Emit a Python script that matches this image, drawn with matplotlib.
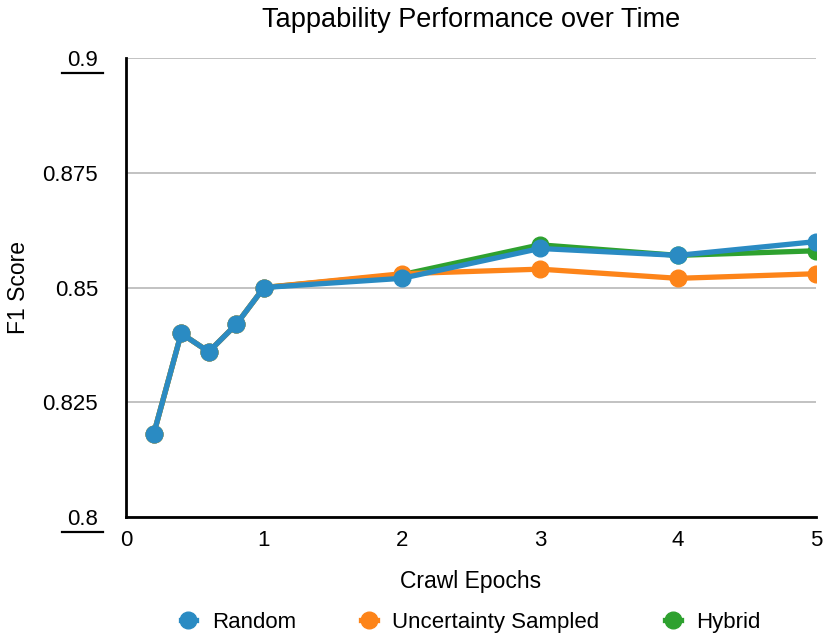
import matplotlib
matplotlib.use("Agg")
import matplotlib.pyplot as plt
from matplotlib.lines import Line2D

plt.rcParams['font.family'] = ['Liberation Sans', 'DejaVu Sans']

# Data
epochs = [0.2, 0.4, 0.6, 0.8, 1, 2, 3, 4, 5]
f1_random = [0.818, 0.840, 0.836, 0.842, 0.850, 0.852, 0.8585, 0.857, 0.860]
f1_uncertainty = [0.818, 0.840, 0.836, 0.842, 0.850, 0.853, 0.854, 0.852, 0.853]
f1_hybrid = [0.818, 0.840, 0.836, 0.842, 0.850, 0.8528, 0.8593, 0.857, 0.858]

y_ticks = [0.8, 0.825, 0.85, 0.875, 0.9]
y_tick_labels = ['0.8', '0.825', '0.85', '0.875', '0.9']
x_ticks = [0, 1, 2, 3, 4, 5]

c_random = '#2a8bc3'
c_uncert = '#fd8419'
c_hybrid = '#2ea12f'

fig = plt.figure(figsize=(8.3, 6.33), dpi=100)
ax = fig.add_axes([0.1518, 0.1832, 0.8312, 0.7252])

lw, ms = 3.8, 12
ax.plot(epochs, f1_hybrid, color=c_hybrid, lw=lw, marker='o', ms=ms, zorder=3)
ax.plot(epochs, f1_uncertainty, color=c_uncert, lw=lw, marker='o', ms=ms, zorder=4)
ax.plot(epochs, f1_random, color=c_random, lw=lw, marker='o', ms=ms, zorder=5)

ax.set_xlim(0, 5)
ax.set_ylim(0.8, 0.9)
ax.set_xticks(x_ticks)
ax.set_yticks(y_ticks)
ax.set_yticklabels(y_tick_labels)
ax.tick_params(length=0, labelsize=16)
ax.tick_params(axis='x', pad=9)
ax.tick_params(axis='y', pad=20)
ax.grid(axis='y', color='#bdbdbd', lw=1.3)
ax.set_axisbelow(True)

for s in ['top', 'right']:
    ax.spines[s].set_visible(False)
for s in ['left', 'bottom']:
    ax.spines[s].set_linewidth(2)
    ax.spines[s].set_color('black')
    ax.spines[s].set_zorder(6)

# underline under the top and bottom y labels
for yv in [0.8, 0.9]:
    ax.plot([-0.093, -0.033], [yv - 0.0032, yv - 0.0032], color='black', lw=1.6,
            transform=ax.get_yaxis_transform(), clip_on=False)

ax.set_title('Tappability Performance over Time', fontsize=19.5, pad=22)
ax.set_xlabel('Crawl Epochs', fontsize=16.5, labelpad=14)
ax.set_ylabel('F1 Score', fontsize=16.5, labelpad=9)

handles = [
    Line2D([], [], color=c_random, lw=lw, marker='o', ms=ms),
    Line2D([], [], color=c_uncert, lw=lw, marker='o', ms=ms),
    Line2D([], [], color=c_hybrid, lw=lw, marker='o', ms=ms),
]
fig.legend(handles, ['Random', 'Uncertainty Sampled', 'Hybrid'], loc='lower center',
           ncol=3, frameon=False, fontsize=16, handlelength=0.7, columnspacing=2.95,
           bbox_to_anchor=(0.567, -0.031), handletextpad=0.7)

fig.savefig('out.png', dpi=100)
